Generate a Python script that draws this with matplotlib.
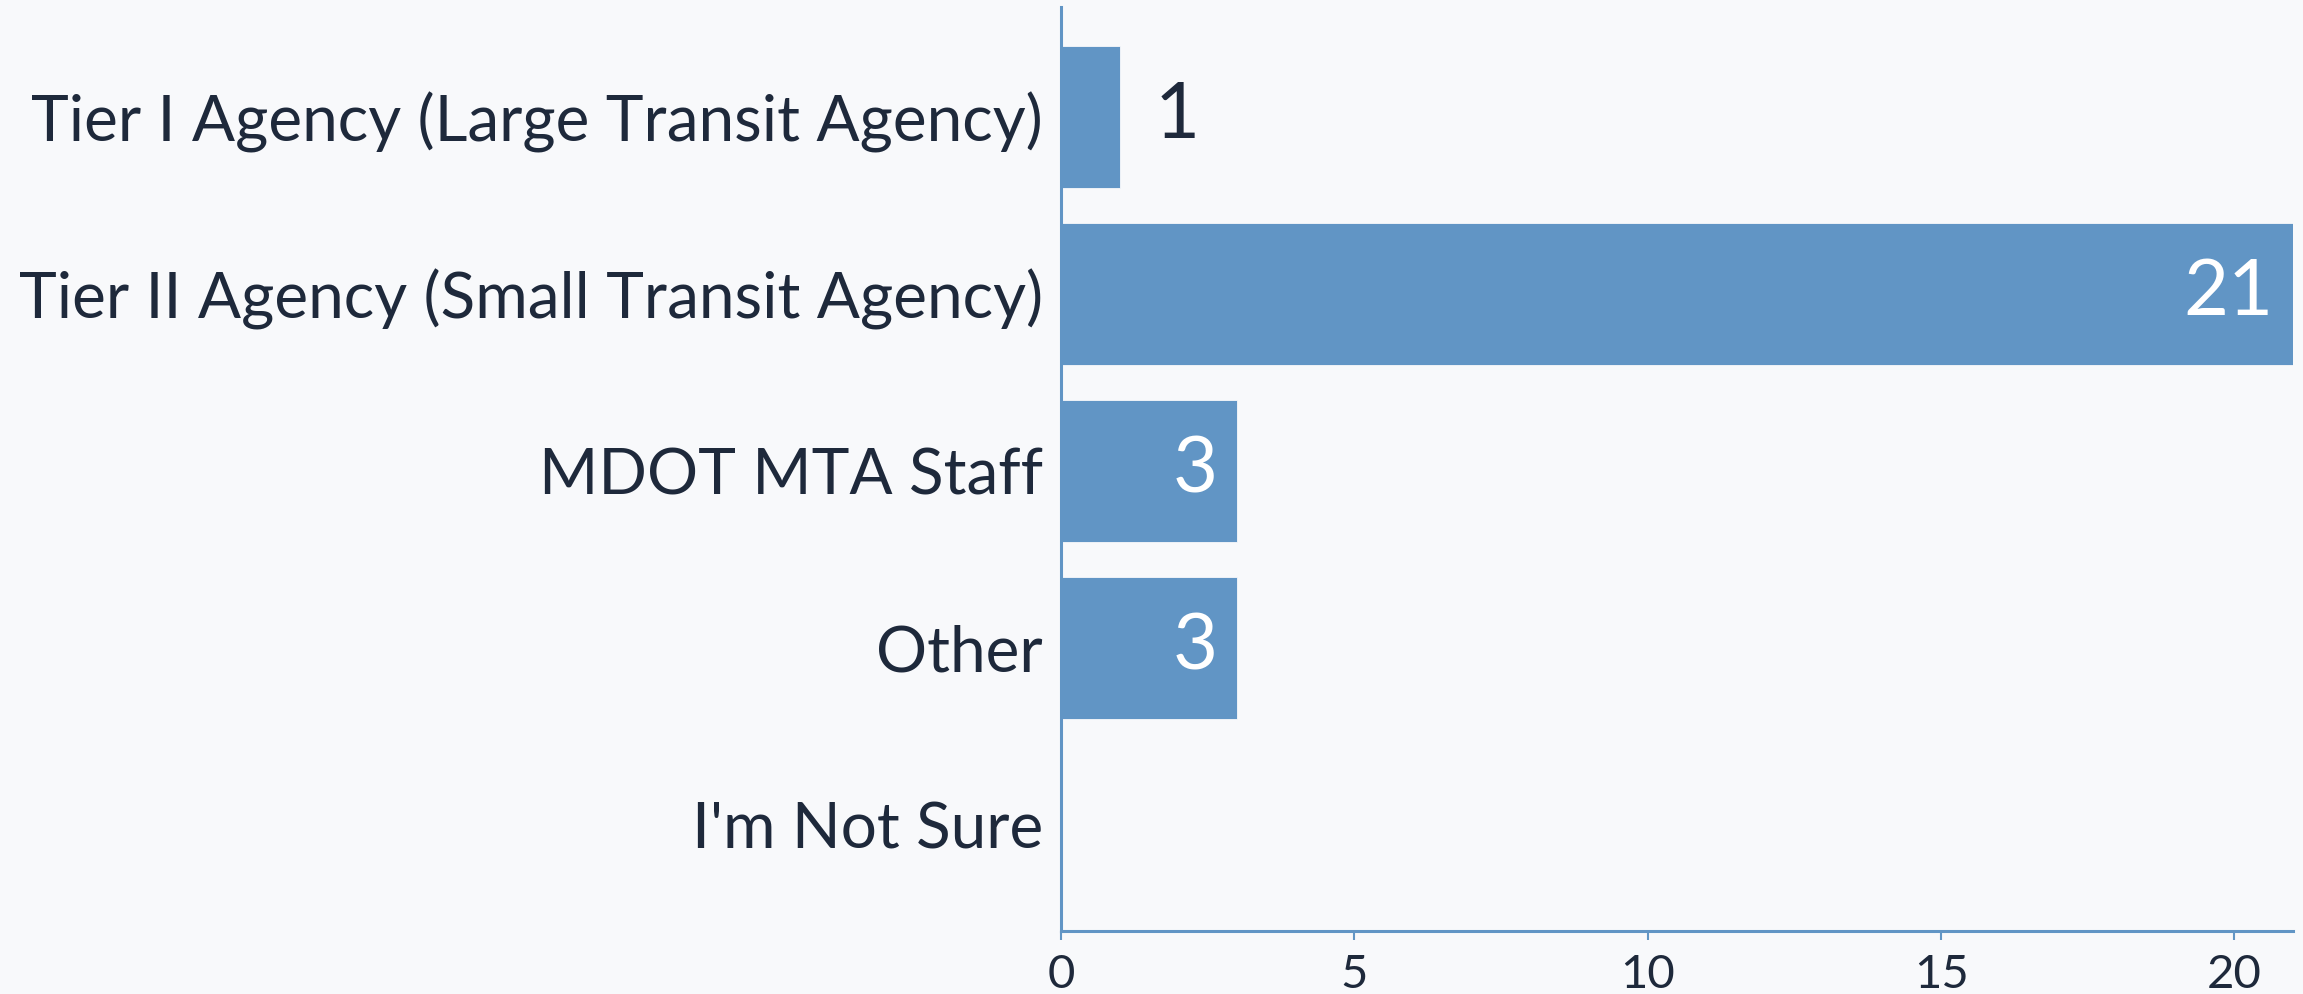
import matplotlib
matplotlib.use("Agg")
import matplotlib.pyplot as plt

categories = ["Tier I Agency (Large Transit Agency)",
              "Tier II Agency (Small Transit Agency)",
              "MDOT MTA Staff",
              "Other",
              "I'm Not Sure"]
values = [1, 21, 3, 3, 0]
xticks = [0, 5, 10, 15, 20]

BG = "#f8f9fb"
BAR = "#6195c5"
TXT = "#1e293b"

plt.rcParams['font.family'] = ['Lato', 'DejaVu Sans']

fig = plt.figure(figsize=(23.03, 9.94), dpi=100, facecolor=BG)
ax = fig.add_axes([0.4607, 0.0634, 0.5350, 0.9296])
ax.set_facecolor(BG)

y = list(range(len(categories)))
ax.barh(y, values, height=0.8, color=BAR, edgecolor=BG, linewidth=0.6)

ax.set_xlim(0, 21)
ax.set_ylim(4.6, -0.62)
ax.set_yticks(y)
ax.set_yticklabels(categories, fontsize=46, color=TXT)
ax.set_xticks(xticks)
ax.set_xticklabels([str(t) for t in xticks], fontsize=34, color=TXT)

ax.tick_params(axis='y', length=0, pad=13)
ax.tick_params(axis='x', length=6.5, width=1.5, color=BAR, pad=10)

for s in ['top', 'right']:
    ax.spines[s].set_visible(False)
for s in ['left', 'bottom']:
    ax.spines[s].set_color(BAR)
    ax.spines[s].set_linewidth(2.2)

for yi, v in zip(y, values):
    if v <= 0:
        continue
    if v >= 2:
        ax.annotate(str(v), xy=(v, yi), xytext=(-14, 0), textcoords='offset points',
                    ha='right', va='center', fontsize=56, color='white')
    else:
        ax.annotate(str(v), xy=(v, yi), xytext=(25, 0), textcoords='offset points',
                    ha='left', va='center', fontsize=56, color=TXT)

fig.savefig("out.png", dpi=100, facecolor=BG)
